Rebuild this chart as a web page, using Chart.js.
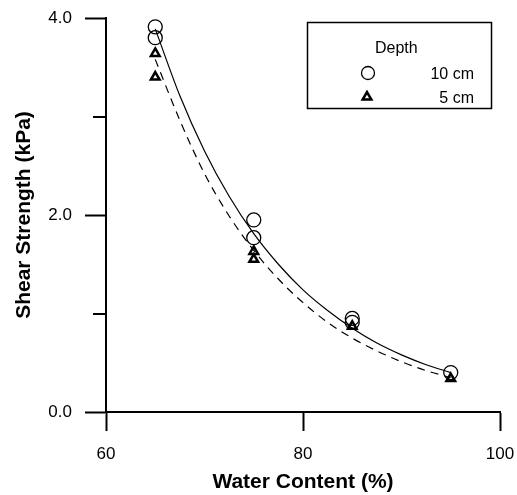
<!DOCTYPE html>
<html>
<head>
<meta charset="utf-8">
<script src="https://cdn.jsdelivr.net/npm/chart.js@4/dist/chart.umd.min.js"></script>
<style>
html,body{margin:0;padding:0;background:#fff;}
#wrap{position:relative;width:517px;height:495px;}
</style>
</head>
<body>
<div id="wrap"><canvas id="c" width="517" height="495"></canvas></div>
<script>
// ---- data ----
const depth10X = [65, 65, 75, 75, 85, 85, 95];
const depth10Y = [3.91, 3.80, 1.95, 1.77, 0.95, 0.91, 0.40];
const depth5X  = [65, 65, 75, 75, 85, 95];
const depth5Y  = [3.64, 3.40, 1.63, 1.55, 0.87, 0.34];
// fitted curves
const curveX   = [65, 67.5, 70, 72.5, 75, 77.5, 80, 82.5, 85, 87.5, 90, 92.5, 95];
const curve10Y = [3.89, 3.21, 2.65, 2.19, 1.81, 1.50, 1.24, 1.03, 0.85, 0.70, 0.58, 0.48, 0.40];
const curve5Y  = [3.58, 2.96, 2.42, 1.99, 1.64, 1.35, 1.11, 0.91, 0.75, 0.62, 0.51, 0.42, 0.35];
const xTicks = [60, 80, 100];
const yTicks = [0, 2, 4];
const yMinorTicks = [1, 3];
const legendTitle = 'Depth';
const legendLabels = ['10 cm', '5 cm'];
const xTitle = 'Water Content (%)';
const yTitle = 'Shear Strength (kPa)';

const toPts = (xs, ys) => xs.map((x, i) => ({x: x, y: ys[i]}));

const minorTickPlugin = {
  id: 'minorTicks',
  afterDraw(chart) {
    const ctx = chart.ctx;
    const ys = chart.scales.y;
    ctx.save();
    ctx.strokeStyle = '#000';
    ctx.lineWidth = 2;
    yMinorTicks.forEach(v => {
      const py = Math.round(ys.getPixelForValue(v));
      ctx.beginPath();
      ctx.moveTo(ys.right - 13, py);
      ctx.lineTo(ys.right, py);
      ctx.stroke();
    });
    ctx.restore();
  }
};

const legendPlugin = {
  id: 'boxLegend',
  afterDraw(chart) {
    const ctx = chart.ctx;
    ctx.save();
    ctx.strokeStyle = '#000';
    ctx.lineWidth = 1.5;
    ctx.strokeRect(307.5, 22.5, 184, 86);
    ctx.fillStyle = '#000';
    ctx.font = '16px "Liberation Sans", Arial, sans-serif';
    ctx.textBaseline = 'alphabetic';
    ctx.textAlign = 'left';
    ctx.fillText(legendTitle, 375, 53);
    ctx.textAlign = 'right';
    ctx.fillText(legendLabels[0], 474, 79);
    ctx.fillText(legendLabels[1], 474, 103);
    // markers
    ctx.lineWidth = 1.3;
    ctx.beginPath();
    ctx.arc(368, 73, 6.5, 0, Math.PI * 2);
    ctx.stroke();
    ctx.lineWidth = 2.5;
    ctx.fillStyle = '#fff';
    Chart.helpers.drawPoint(ctx, {pointStyle: 'triangle', radius: 5, rotation: 0, borderWidth: 2.5}, 367, 97);
    ctx.restore();
  }
};

const FONT = '"Liberation Sans", Arial, sans-serif';

new Chart(document.getElementById('c'), {
  type: 'scatter',
  data: {
    datasets: [
      {
        type: 'line', data: toPts(curveX, curve10Y), borderColor: '#000', borderWidth: 1.2,
        pointRadius: 0, fill: false, cubicInterpolationMode: 'monotone', showLine: true
      },
      {
        type: 'line', data: toPts(curveX, curve5Y), borderColor: '#000', borderWidth: 1.2,
        borderDash: [8, 6], pointRadius: 0, fill: false, cubicInterpolationMode: 'monotone', showLine: true
      },
      {
        label: legendLabels[0], data: toPts(depth10X, depth10Y), pointStyle: 'circle',
        pointRadius: 7, borderColor: '#000', backgroundColor: 'rgba(0,0,0,0)', borderWidth: 1.3
      },
      {
        label: legendLabels[1], data: toPts(depth5X, depth5Y), pointStyle: 'triangle',
        pointRadius: 5, borderColor: '#000', backgroundColor: '#fff', borderWidth: 2.5
      }
    ]
  },
  options: {
    responsive: false,
    animation: false,
    layout: {padding: {left: 0, right: 17, top: 18, bottom: 0}},
    plugins: {legend: {display: false}, tooltip: {enabled: false}},
    scales: {
      x: {
        type: 'linear', min: 60, max: 100,
        afterBuildTicks(s) { s.ticks = xTicks.map(v => ({value: v})); },
        afterFit(s) { s.height = 83; s.paddingLeft = 0; s.paddingRight = 0; },
        grid: {drawOnChartArea: false, tickLength: 19, tickColor: '#000', tickWidth: 2},
        border: {display: true, color: '#000', width: 2},
        ticks: {color: '#000', padding: 13, font: {family: FONT, size: 17}, maxRotation: 0},
        title: {display: true, text: xTitle, color: '#000', padding: {top: 0, bottom: 0},
          font: {family: FONT, size: 21, weight: 'bold'}}
      },
      y: {
        type: 'linear', min: 0, max: 4,
        afterBuildTicks(s) { s.ticks = yTicks.map(v => ({value: v})); },
        afterFit(s) { s.width = 106; s.paddingTop = 0; s.paddingBottom = 0; },
        grid: {drawOnChartArea: false, tickLength: 21, tickColor: '#000', tickWidth: 2},
        border: {display: true, color: '#000', width: 2},
        ticks: {color: '#000', padding: 13, callback: v => Number(v).toFixed(1),
          font: {family: FONT, size: 17}},
        title: {display: true, text: yTitle, color: '#000', padding: {top: 12, bottom: 0},
          font: {family: FONT, size: 21, weight: 'bold'}}
      }
    }
  },
  plugins: [minorTickPlugin, legendPlugin]
});
</script>
</body>
</html>
